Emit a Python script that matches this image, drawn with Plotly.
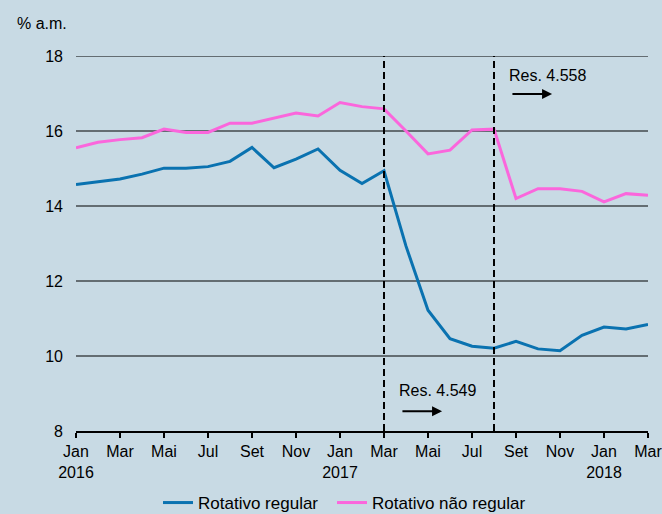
import plotly.graph_objects as go

# Monthly series, Jan 2016 .. Mar 2018 (% a.m.)
months = [
    "2016-01", "2016-02", "2016-03", "2016-04", "2016-05", "2016-06", "2016-07",
    "2016-08", "2016-09", "2016-10", "2016-11", "2016-12", "2017-01", "2017-02",
    "2017-03", "2017-04", "2017-05", "2017-06", "2017-07", "2017-08", "2017-09",
    "2017-10", "2017-11", "2017-12", "2018-01", "2018-02", "2018-03",
]
rotativo_regular = [
    14.57, 14.64, 14.72, 14.85, 15.01, 15.01, 15.05, 15.19, 15.56, 15.02,
    15.25, 15.52, 14.95, 14.60, 14.94, 12.93, 11.22, 10.46, 10.26, 10.21,
    10.39, 10.19, 10.14, 10.55, 10.77, 10.72, 10.84,
]
rotativo_nao_regular = [
    15.55, 15.70, 15.77, 15.82, 16.05, 15.96, 15.96, 16.21, 16.21, 16.34,
    16.48, 16.40, 16.76, 16.65, 16.59, 16.00, 15.39, 15.49, 16.03, 16.05,
    14.20, 14.46, 14.46, 14.39, 14.11, 14.33, 14.29,
]
tick_labels = [
    "Jan<br>2016", "Mar", "Mai", "Jul", "Set", "Nov",
    "Jan<br>2017", "Mar", "Mai", "Jul", "Set", "Nov",
    "Jan<br>2018", "Mar",
]
y_ticks = [8, 10, 12, 14, 16, 18]
resolutions = [("2017-03", "Res. 4.549"), ("2017-08", "Res. 4.558")]

x = list(range(len(months)))
pos = {m: i for i, m in enumerate(months)}

BG = "#c8dae4"
BLUE = "#0a72b0"
PINK = "#fb66dc"
FONT = "Liberation Sans, Arial, sans-serif"

fig = go.Figure()
fig.add_trace(go.Scatter(
    x=x, y=rotativo_regular, mode="lines", name="Rotativo regular",
    line=dict(color=BLUE, width=3), legend="legend",
))
fig.add_trace(go.Scatter(
    x=x, y=rotativo_nao_regular, mode="lines", name="Rotativo não regular",
    line=dict(color=PINK, width=3), legend="legend2",
))

# Horizontal grid drawn below the series
for v in y_ticks[1:]:
    fig.add_shape(type="line", xref="paper", yref="y", x0=0, x1=1, y0=v, y1=v,
                  line=dict(color="black", width=1), layer="below")

# Dashed markers for each resolution
for m, _ in resolutions:
    fig.add_shape(type="line", xref="x", yref="y", x0=pos[m], x1=pos[m],
                  y0=y_ticks[0], y1=y_ticks[-1],
                  line=dict(color="black", width=2, dash="7px,4px"))

# Labels with arrows to the right of each marker
label_specs = [
    (pos["2017-03"], 9.09, 8.53),
    (pos["2017-08"], 17.47, 16.99),
]
for (m, text), (xv, ty, ay) in zip(resolutions, label_specs):
    fig.add_annotation(x=xv + 2.41, y=ty, text=text, showarrow=False,
                       font=dict(size=16, color="black", family=FONT))
    fig.add_annotation(x=xv + 2.64, y=ay, ax=xv + 0.77, ay=ay,
                       xref="x", yref="y", axref="x", ayref="y",
                       text="", showarrow=True, arrowhead=2, arrowsize=1,
                       arrowwidth=2, arrowcolor="black")

fig.add_annotation(xref="paper", yref="paper", x=-0.1067, y=1.0, yshift=33,
                   xanchor="left", yanchor="middle", text="% a.m.",
                   showarrow=False, font=dict(size=16, color="black", family=FONT))

legend_style = dict(orientation="h", xanchor="left", y=-0.192, yanchor="middle",
                    bgcolor="rgba(0,0,0,0)", font=dict(size=17, family=FONT))

fig.update_layout(
    width=662, height=514,
    paper_bgcolor=BG, plot_bgcolor=BG,
    margin=dict(l=76, r=14, t=56, b=83, autoexpand=False),
    font=dict(family=FONT, size=16, color="black"),
    showlegend=True,
    legend=dict(x=0.1434, **legend_style),
    legend2=dict(x=0.4476, **legend_style),
    xaxis=dict(
        range=[0, len(months) - 1],
        tickvals=x[::2], ticktext=tick_labels,
        ticks="outside", ticklen=5, tickwidth=2, tickcolor="black",
        showline=True, linecolor="black", linewidth=2,
        showgrid=False, zeroline=False, tickangle=0,
        tickfont=dict(size=16, family=FONT), automargin=False,
        ticklabeloverflow="allow",
    ),
    yaxis=dict(
        range=[y_ticks[0], y_ticks[-1]], tickvals=y_ticks,
        showgrid=False, zeroline=False, showline=False, ticks="",
        ticklabelstandoff=12, tickfont=dict(size=16, family=FONT),
        automargin=False,
    ),
)

fig.write_html("out.html")
